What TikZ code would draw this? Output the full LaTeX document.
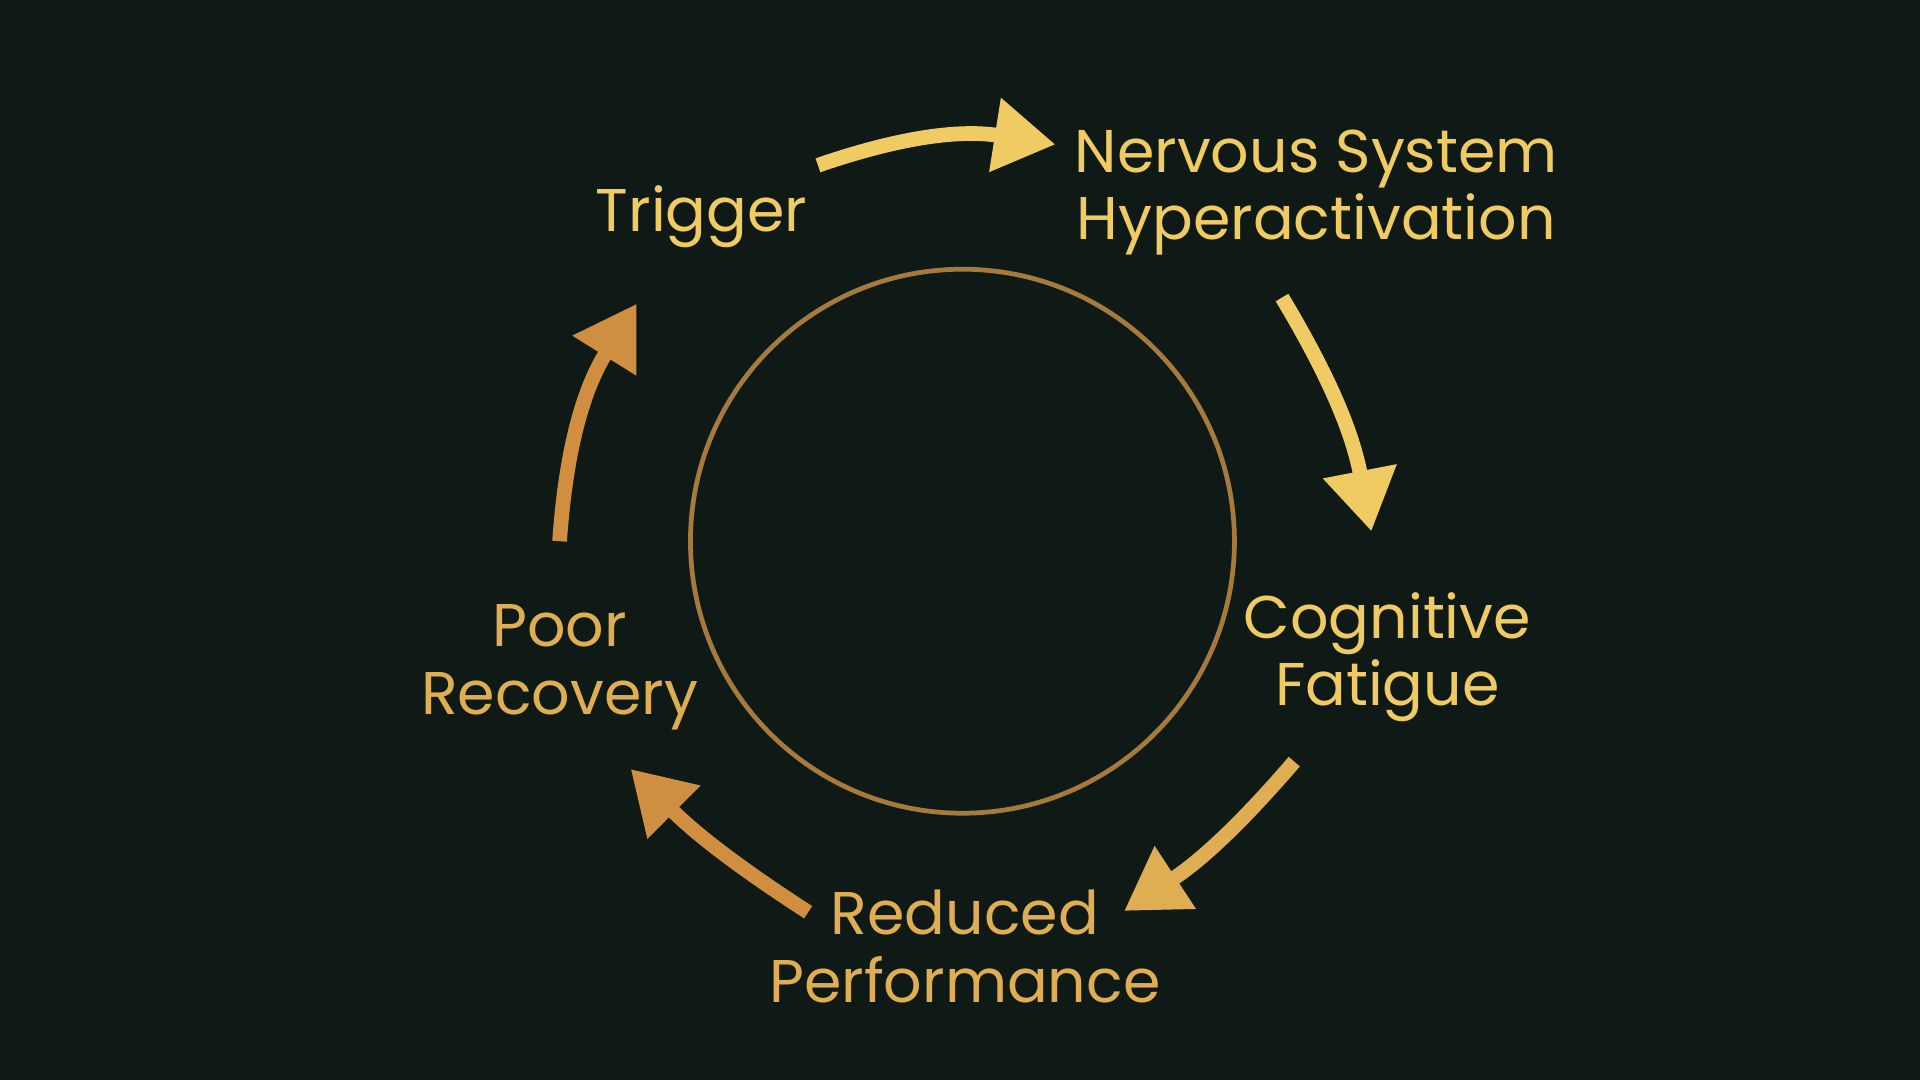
\documentclass[tikz,border=0pt]{standalone}
\usepackage{fontspec}
\setmainfont{Poppins}
\usetikzlibrary{arrows.meta}
\definecolor{bg}{HTML}{0F1A17}
\definecolor{goldA}{HTML}{F0CA62}
\definecolor{goldB}{HTML}{E0AE52}
\definecolor{goldC}{HTML}{CF8E40}
\definecolor{ring}{HTML}{A57A3C}
\begin{document}
\begin{tikzpicture}[x=0.01cm,y=-0.01cm,
  lab/.style={align=center,font=\fontsize{14}{15.6}\selectfont},
  arr/.style={line width=0.12cm,-{Triangle[length=0.5cm,width=0.58cm]}}]
\fill[bg] (0,0) rectangle (1568,882);
\useasboundingbox (0,0) rectangle (1568,882);
\node[draw=ring,line width=1.1pt,circle,minimum size=4.44cm] (ringc) at (786,442) {};
\node[lab,text=goldA] (trig) at (573,177) {Trigger};
\node[lab,text=goldA] (nsh) at (1075,157) {Nervous System\\Hyperactivation};
\node[lab,text=goldA] (cog) at (1133,537) {Cognitive\\Fatigue};
\node[lab,text=goldB] (red) at (788,773) {Reduced\\Performance};
\node[lab,text=goldB] (poor) at (457,545) {Poor\\Recovery};
\coordinate (a1) at (668,135); \coordinate (b1) at (862,118);
\coordinate (a2) at (1047,243); \coordinate (b2) at (1120,434);
\coordinate (a3) at (1057,622); \coordinate (b3) at (918,744);
\coordinate (a4) at (660,745); \coordinate (b4) at (515,628);
\coordinate (a5) at (457,442); \coordinate (b5) at (520,248);
\draw[arr,goldA] (a1) to[bend left=14] (b1);
\draw[arr,goldA] (a2) to[bend left=10] (b2);
\draw[arr,goldB] (a3) to[bend left=8] (b3);
\draw[arr,goldC] (a4) to[bend left=6] (b4);
\draw[arr,goldC] (a5) to[bend left=14] (b5);
\end{tikzpicture}
\end{document}
